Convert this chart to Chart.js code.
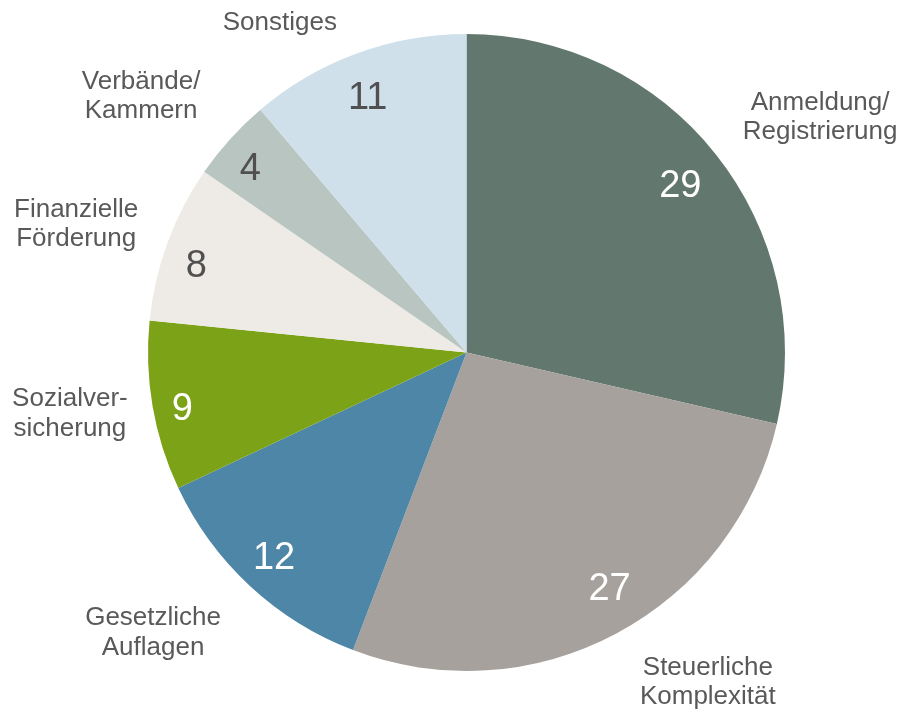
<!DOCTYPE html>
<html>
<head>
<meta charset="utf-8">
<script src="https://cdn.jsdelivr.net/npm/chart.js@4"></script>
<style>
  html, body { margin: 0; padding: 0; background: #fff; }
  #wrap { width: 906px; height: 715px; }
</style>
</head>
<body>
<div id="wrap"><canvas id="chart_pie"></canvas></div>
<script>
// data, clockwise from 12 o'clock (shares in %, labels show rounded values)
var categories = [
    ['Anmeldung/', 'Registrierung'],
    ['Steuerliche', 'Komplexität'],
    ['Gesetzliche', 'Auflagen'],
    ['Sozialver-', 'sicherung'],
    ['Finanzielle', 'Förderung'],
    ['Verbände/', 'Kammern'],
    ['Sonstiges']
];
var values = [28.6, 27.2, 12.2, 8.6, 8.0, 4.2, 11.2];
var colors = ['#62786e', '#a6a19d', '#4d86a7', '#7ca317', '#eeebe7', '#b8c5c1', '#cfe0eb'];
var valueColors = ['#ffffff', '#ffffff', '#ffffff', '#ffffff', '#505050', '#505050', '#505050'];

// label placement: angle (deg, canvas) and distance as fraction of radius
var labelAngle = [-33.6, 53.8, 138.2, 171.2, 198.2, 218.2, 240.5];
var labelDist = [1.333, 1.283, 1.32, 1.26, 1.29, 1.30, 1.19];
var valueShift = [0.7, -3.0, 0.2, -1.7, -2.6, -1.8, -1.1];
var valueDist = [0.85, 0.87, 0.885, 0.91, 0.89, 0.89, 0.855];

var FONT = "'Liberation Sans', Arial, sans-serif";

var chart_pie = new Chart(document.getElementById('chart_pie'), {
    type: 'pie',
    data: {
        labels: categories,
        datasets: [{
            data: values,
            backgroundColor: colors,
            borderWidth: 0
        }]
    },
    options: {
        animation: false,
        responsive: true,
        maintainAspectRatio: false,
        layout: {
            padding: { left: 148, right: 121, top: 34, bottom: 44 }
        },
        plugins: {
            legend: { display: false },
            tooltip: { enabled: false }
        }
    },
    plugins: [{
        id: 'sliceLabels',
        afterDatasetsDraw: (chart) => {
            const ctx = chart.ctx;
            const arcs = chart.getDatasetMeta(0).data;
            ctx.save();
            ctx.textAlign = 'center';
            ctx.textBaseline = 'middle';
            arcs.forEach((arc, i) => {
                const r = arc.outerRadius;
                const mid = (arc.startAngle + arc.endAngle) / 2 + valueShift[i] * Math.PI / 180;
                ctx.font = '38px ' + FONT;
                ctx.fillStyle = valueColors[i];
                ctx.fillText(String(Math.round(values[i])),
                    arc.x + Math.cos(mid) * r * valueDist[i],
                    arc.y + Math.sin(mid) * r * valueDist[i]);

                const a = labelAngle[i] * Math.PI / 180;
                const cx = arc.x + Math.cos(a) * r * labelDist[i];
                const cy = arc.y + Math.sin(a) * r * labelDist[i];
                const lines = categories[i];
                const lh = 29.5;
                ctx.font = '26px ' + FONT;
                ctx.fillStyle = '#595959';
                lines.forEach((t, j) => {
                    ctx.fillText(t, cx, cy + (j - (lines.length - 1) / 2) * lh);
                });
            });
            ctx.restore();
        }
    }]
});
</script>
</body>
</html>
